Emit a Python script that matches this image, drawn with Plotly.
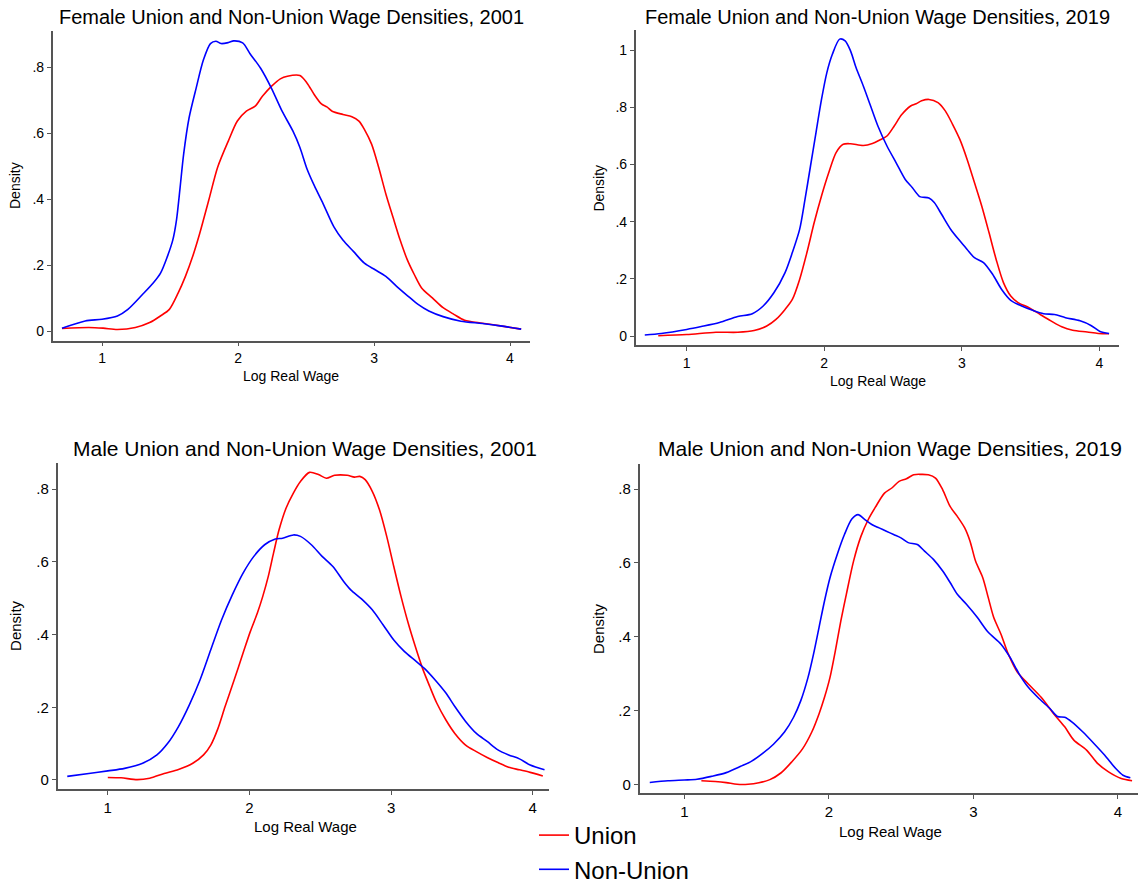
import plotly.graph_objects as go

W, H = 1141, 885

# ---------------- data ----------------
titles = ["Female Union and Non-Union Wage Densities, 2001",
          "Female Union and Non-Union Wage Densities, 2019",
          "Male Union and Non-Union Wage Densities, 2001",
          "Male Union and Non-Union Wage Densities, 2019"]

x_ticks = [1, 2, 3, 4]
x_tick_text = ["1", "2", "3", "4"]
y_ticks_a = [0, 0.2, 0.4, 0.6, 0.8]
y_tick_text_a = ["0", ".2", ".4", ".6", ".8"]
y_ticks_b = [0, 0.2, 0.4, 0.6, 0.8, 1.0]
y_tick_text_b = ["0", ".2", ".4", ".6", ".8", "1"]

# Female 2001
f01_non_x = [0.705, 0.876, 1.0, 1.113, 1.19, 1.297, 1.376, 1.43, 1.48, 1.52, 1.547, 1.574, 1.6, 1.64,
             1.692, 1.745, 1.797, 1.837, 1.876, 1.929, 1.968, 2.034, 2.087, 2.166, 2.245, 2.324, 2.403,
             2.455, 2.508, 2.561, 2.626, 2.705, 2.771, 2.85, 2.929, 3.008, 3.087, 3.166, 3.245, 3.324,
             3.403, 3.508, 3.639, 3.797, 3.929, 4.082]
f01_non_y = [0.009, 0.031, 0.036, 0.046, 0.066, 0.111, 0.146, 0.176, 0.226, 0.276, 0.336, 0.436, 0.537,
             0.647, 0.737, 0.822, 0.872, 0.879, 0.872, 0.875, 0.880, 0.874, 0.842, 0.797, 0.737, 0.667,
             0.607, 0.557, 0.491, 0.441, 0.386, 0.316, 0.276, 0.241, 0.206, 0.186, 0.166, 0.136, 0.108,
             0.081, 0.061, 0.044, 0.030, 0.023, 0.016, 0.006]
f01_uni_x = [0.705, 0.903, 1.008, 1.113, 1.245, 1.35, 1.429, 1.495, 1.56, 1.613, 1.666, 1.718, 1.784,
             1.85, 1.929, 1.995, 2.061, 2.126, 2.179, 2.245, 2.311, 2.363, 2.455, 2.508, 2.561, 2.613,
             2.653, 2.692, 2.771, 2.837, 2.889, 2.929, 2.982, 3.034, 3.087, 3.139, 3.192, 3.245, 3.297,
             3.35, 3.429, 3.508, 3.587, 3.666, 3.797, 3.929, 4.082]
f01_uni_y = [0.008, 0.011, 0.009, 0.005, 0.011, 0.026, 0.046, 0.066, 0.116, 0.166, 0.226, 0.296, 0.396,
             0.497, 0.577, 0.637, 0.667, 0.682, 0.712, 0.742, 0.765, 0.773, 0.775, 0.752, 0.717, 0.689,
             0.680, 0.667, 0.657, 0.650, 0.637, 0.612, 0.567, 0.497, 0.416, 0.346, 0.276, 0.216, 0.171,
             0.131, 0.101, 0.071, 0.051, 0.033, 0.024, 0.016, 0.006]

# Female 2019
f19_non_x = [0.695, 0.815, 1.0, 1.106, 1.238, 1.371, 1.477, 1.556, 1.635, 1.715, 1.768, 1.821, 1.86, 1.9,
             1.94, 1.98, 2.019, 2.059, 2.112, 2.152, 2.191, 2.231, 2.284, 2.337, 2.39, 2.456, 2.522,
             2.589, 2.641, 2.694, 2.761, 2.8, 2.853, 2.92, 2.986, 3.039, 3.092, 3.158, 3.224, 3.29,
             3.356, 3.436, 3.515, 3.595, 3.674, 3.754, 3.86, 3.939, 4.005, 4.071]
f19_non_y = [0.0035, 0.009, 0.023, 0.033, 0.047, 0.068, 0.078, 0.105, 0.152, 0.222, 0.292, 0.373, 0.478,
             0.595, 0.712, 0.828, 0.922, 0.986, 1.039, 1.033, 0.998, 0.940, 0.875, 0.805, 0.735, 0.665,
             0.607, 0.548, 0.519, 0.488, 0.483, 0.467, 0.426, 0.373, 0.333, 0.303, 0.274, 0.257, 0.216,
             0.163, 0.125, 0.105, 0.090, 0.078, 0.075, 0.064, 0.053, 0.037, 0.016, 0.009]
f19_uni_x = [0.793, 1.0, 1.212, 1.371, 1.49, 1.582, 1.649, 1.715, 1.768, 1.821, 1.874, 1.927, 1.98, 2.033,
             2.086, 2.138, 2.191, 2.284, 2.35, 2.403, 2.456, 2.509, 2.562, 2.628, 2.668, 2.708, 2.761,
             2.827, 2.88, 2.933, 2.986, 3.039, 3.092, 3.145, 3.198, 3.25, 3.303, 3.356, 3.409, 3.489,
             3.568, 3.648, 3.727, 3.806, 3.912, 3.992, 4.071]
f19_uni_y = [0.001, 0.005, 0.013, 0.013, 0.019, 0.035, 0.058, 0.093, 0.128, 0.198, 0.292, 0.397, 0.490,
             0.572, 0.642, 0.671, 0.673, 0.667, 0.674, 0.686, 0.700, 0.735, 0.774, 0.805, 0.813, 0.823,
             0.828, 0.817, 0.788, 0.741, 0.688, 0.618, 0.537, 0.455, 0.362, 0.268, 0.187, 0.140, 0.117,
             0.099, 0.076, 0.053, 0.032, 0.020, 0.014, 0.009, 0.008]

# Male 2001
m01_non_x = [0.714, 0.866, 1.0, 1.119, 1.246, 1.347, 1.423, 1.499, 1.575, 1.651, 1.727, 1.803, 1.879,
             1.955, 2.031, 2.107, 2.183, 2.234, 2.31, 2.36, 2.437, 2.513, 2.589, 2.665, 2.715, 2.791,
             2.867, 2.943, 3.019, 3.095, 3.171, 3.235, 3.311, 3.387, 3.45, 3.526, 3.602, 3.678, 3.754,
             3.83, 3.906, 3.982, 4.083]
m01_non_y = [0.010, 0.018, 0.025, 0.032, 0.046, 0.069, 0.101, 0.147, 0.206, 0.275, 0.358, 0.440, 0.509,
             0.569, 0.615, 0.647, 0.663, 0.665, 0.674, 0.670, 0.647, 0.615, 0.587, 0.546, 0.523, 0.498,
             0.468, 0.427, 0.385, 0.353, 0.328, 0.307, 0.275, 0.239, 0.202, 0.161, 0.128, 0.106, 0.083,
             0.069, 0.058, 0.041, 0.028]
m01_uni_x = [1.0, 1.094, 1.208, 1.296, 1.398, 1.499, 1.6, 1.676, 1.727, 1.778, 1.828, 1.892, 1.955, 2.006,
             2.056, 2.094, 2.133, 2.17, 2.209, 2.259, 2.31, 2.36, 2.424, 2.487, 2.543, 2.601, 2.69,
             2.741, 2.779, 2.817, 2.867, 2.918, 2.969, 3.019, 3.07, 3.121, 3.171, 3.222, 3.273, 3.323,
             3.387, 3.45, 3.526, 3.602, 3.678, 3.754, 3.83, 3.906, 3.982, 4.071]
m01_uni_y = [0.007, 0.006, 0.001, 0.005, 0.018, 0.029, 0.046, 0.069, 0.096, 0.142, 0.202, 0.275, 0.349,
             0.408, 0.459, 0.505, 0.560, 0.624, 0.688, 0.748, 0.789, 0.821, 0.846, 0.840, 0.830, 0.838,
             0.838, 0.833, 0.835, 0.826, 0.794, 0.743, 0.670, 0.587, 0.505, 0.431, 0.367, 0.307, 0.257,
             0.211, 0.165, 0.128, 0.096, 0.078, 0.062, 0.048, 0.035, 0.028, 0.021, 0.011]

# Male 2019
m19_non_x = [0.761, 0.887, 1.0, 1.088, 1.189, 1.29, 1.39, 1.466, 1.542, 1.617, 1.693, 1.756, 1.806,
             1.856, 1.894, 1.932, 1.97, 2.008, 2.058, 2.108, 2.159, 2.202, 2.247, 2.297, 2.348, 2.398,
             2.448, 2.499, 2.549, 2.612, 2.662, 2.725, 2.788, 2.839, 2.889, 2.952, 3.028, 3.103, 3.191,
             3.254, 3.317, 3.38, 3.456, 3.531, 3.582, 3.632, 3.683, 3.758, 3.834, 3.909, 3.985, 4.035,
             4.086]
m19_non_y = [0.0054, 0.010, 0.012, 0.014, 0.022, 0.032, 0.049, 0.063, 0.084, 0.109, 0.142, 0.182, 0.227,
             0.290, 0.353, 0.425, 0.497, 0.560, 0.623, 0.677, 0.719, 0.731, 0.718, 0.704, 0.695, 0.686,
             0.677, 0.668, 0.655, 0.650, 0.632, 0.609, 0.578, 0.547, 0.515, 0.488, 0.452, 0.412, 0.380,
             0.344, 0.299, 0.263, 0.232, 0.205, 0.184, 0.182, 0.169, 0.142, 0.111, 0.079, 0.043, 0.025,
             0.018]
m19_uni_x = [1.118, 1.214, 1.29, 1.365, 1.441, 1.516, 1.592, 1.668, 1.743, 1.819, 1.882, 1.932, 1.97,
             2.008, 2.045, 2.083, 2.121, 2.171, 2.222, 2.272, 2.322, 2.385, 2.436, 2.486, 2.537, 2.587,
             2.637, 2.688, 2.738, 2.788, 2.839, 2.889, 2.94, 2.977, 3.015, 3.065, 3.103, 3.141, 3.191,
             3.242, 3.305, 3.38, 3.469, 3.557, 3.632, 3.695, 3.783, 3.859, 3.935, 4.023, 4.098]
m19_uni_y = [0.010, 0.008, 0.005, 0.0005, 0.0005, 0.0045, 0.013, 0.031, 0.061, 0.097, 0.142, 0.191,
             0.236, 0.290, 0.362, 0.443, 0.515, 0.605, 0.672, 0.717, 0.751, 0.789, 0.803, 0.821, 0.828,
             0.839, 0.840, 0.839, 0.830, 0.798, 0.753, 0.726, 0.695, 0.659, 0.605, 0.560, 0.506, 0.452,
             0.407, 0.353, 0.304, 0.272, 0.236, 0.191, 0.156, 0.120, 0.093, 0.057, 0.034, 0.016, 0.010]

series = [
    (f01_uni_x, f01_uni_y, f01_non_x, f01_non_y),
    (f19_uni_x, f19_uni_y, f19_non_x, f19_non_y),
    (m01_uni_x, m01_uni_y, m01_non_x, m01_non_y),
    (m19_uni_x, m19_uni_y, m19_non_x, m19_non_y),
]

# ---------------- layout geometry (pixels) ----------------
# plot areas: (left, right, top, bottom) in px
areas = [(52.7, 530.0, 30.7, 340.7),
         (635.7, 1118.7, 30.0, 345.0),
         (57.5, 548.9, 463.3, 789.3),
         (639.5, 1138.0, 464.0, 793.3)]
xranges = [[0.637, 4.147], [0.629, 4.141], [0.645, 4.114], [0.69, 4.139]]
yranges = [[-0.029, 0.911], [-0.0315, 1.071], [-0.0256, 0.871], [-0.024, 0.868]]
title_pos = [(291.3, 17.0), (877.0, 17.5), (305.3, 448.0), (890.4, 448.0)]
xtitle_pos = [(291.0, 376.0), (877.5, 380.7), (305.7, 826.0), (890.4, 831.7)]
ytitle_pos = [(15.7, 185.3), (598.6, 188.0), (16.2, 625.7), (598.7, 628.3)]
title_size = [20, 20, 21, 21]
lab_size = [14, 14, 15, 15]

FONT = "Liberation Sans, Arial, Helvetica, sans-serif"
RED = "#ff0000"
BLUE = "#0000ff"
AX = "#555555"

fig = go.Figure()
annotations = []
layout_axes = {}

for i, (ux, uy, nx, ny) in enumerate(series):
    k = "" if i == 0 else str(i + 1)
    xa, ya = "x" + k, "y" + k
    first = i == 0
    fig.add_trace(go.Scatter(x=ux, y=uy, mode="lines", name="Union", legendgroup="u",
                             showlegend=first, xaxis=xa, yaxis=ya,
                             line=dict(color=RED, width=1.6, shape="spline", smoothing=0.8)))
    fig.add_trace(go.Scatter(x=nx, y=ny, mode="lines", name="Non-Union", legendgroup="n",
                             showlegend=first, xaxis=xa, yaxis=ya,
                             line=dict(color=BLUE, width=1.6, shape="spline", smoothing=0.8)))
    l, r, t, b = areas[i]
    yt = y_ticks_b if i == 1 else y_ticks_a
    ytt = y_tick_text_b if i == 1 else y_tick_text_a
    common = dict(showline=True, linecolor=AX, linewidth=1.5, ticks="outside", ticklen=4,
                  tickwidth=1.2, tickcolor=AX, showgrid=False, zeroline=False,
                  tickfont=dict(family=FONT, size=lab_size[i], color="black"), fixedrange=True)
    layout_axes["xaxis" + k] = dict(domain=[l / W, r / W], range=xranges[i], anchor=ya,
                                    tickvals=x_ticks, ticktext=x_tick_text, **common)
    layout_axes["yaxis" + k] = dict(domain=[1 - b / H, 1 - t / H], range=yranges[i], anchor=xa,
                                    tickvals=yt, ticktext=ytt, **common)
    tx, ty = title_pos[i]
    annotations.append(dict(text=titles[i], x=tx / W, y=1 - ty / H, xref="paper", yref="paper",
                            xanchor="center", yanchor="middle", showarrow=False,
                            font=dict(family=FONT, size=title_size[i], color="black")))
    ax_, ay_ = xtitle_pos[i]
    annotations.append(dict(text="Log Real Wage", x=ax_ / W, y=1 - ay_ / H, xref="paper", yref="paper",
                            xanchor="center", yanchor="middle", showarrow=False,
                            font=dict(family=FONT, size=lab_size[i], color="black")))
    dx, dy = ytitle_pos[i]
    annotations.append(dict(text="Density", x=dx / W, y=1 - dy / H, xref="paper", yref="paper",
                            xanchor="center", yanchor="middle", showarrow=False, textangle=-90,
                            font=dict(family=FONT, size=lab_size[i], color="black")))

fig.update_layout(
    width=W, height=H,
    margin=dict(l=0, r=0, t=0, b=0, autoexpand=False),
    paper_bgcolor="white", plot_bgcolor="white",
    annotations=annotations,
    showlegend=True,
    legend=dict(x=534 / W, y=1 - 813 / H, xanchor="left", yanchor="top",
                font=dict(family=FONT, size=24, color="black"),
                bgcolor="rgba(0,0,0,0)", tracegroupgap=0, orientation="v"),
    **layout_axes,
)

fig.write_html(
    "out.html",
    config={"displayModeBar": False},
    post_script=(
        "document.body.style.margin='0';"
        "document.body.style.overflow='hidden';"
        "document.documentElement.style.overflow='hidden';"
    ),
)
